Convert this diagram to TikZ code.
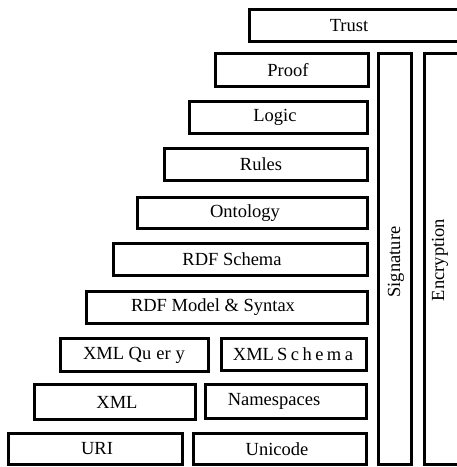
\documentclass[tikz,border=0pt]{standalone}
\usepackage{fontspec}
\setmainfont{Liberation Serif}
\begin{document}
\begin{tikzpicture}[x=1pt,y=-1pt,
  box/.style={draw=black, line width=3.2pt, fill=white, inner sep=0pt},
  lbl/.style={inner sep=0pt, font=\fontsize{18.5}{20}\selectfont}]
\useasboundingbox (0,0) rectangle (457,467);
\begin{scope}
\clip (0,0) rectangle (457,467);
% #1 name, #2-#5 outer edges x1 y1 x2 y2, #6 text centre x, #7 text
\newcommand{\layerbox}[7]{%
  \node[box, minimum width={#4-#2-3.2pt}, minimum height={#5-#3-3.2pt}]
    (#1) at ({(#2+#4)/2},{(#3+#5)/2}) {};
  \node[lbl] (#1-t) at (#6,{(#3+#5)/2}) {#7};}
\layerbox{trust}{248}{8}{470}{43}{349}{Trust}
\layerbox{proof}{214}{52}{370}{88}{288}{Proof}
\layerbox{logic}{188}{100}{369}{135}{275}{Logic}
\layerbox{rules}{163}{147}{369}{182}{261}{Rules}
\layerbox{onto}{136}{196}{369}{230}{245}{Ontology}
\layerbox{rdfs}{112}{242}{369}{277}{232}{RDF Schema}
\layerbox{rdfm}{85}{290}{369}{325}{213}{RDF Model \& Syntax}
\layerbox{xmlq}{59}{337}{210}{373}{134}{XML Qu\kern5pt er\kern5pt y}
\layerbox{xmls}{220}{337}{368}{372}{293}{XML\kern3pt S\kern3.5pt c\kern3.5pt h\kern3.5pt e\kern3.5pt m\kern3.5pt a}
\layerbox{xml}{33}{383}{197}{421}{117}{XML}
\layerbox{ns}{204}{383}{368}{420}{274}{Namespaces}
\layerbox{uri}{7}{432}{184}{466}{97}{URI}
\layerbox{uni}{192}{432}{368}{466}{277}{Unicode}
\node[box, minimum width={413-377-3.2pt}, minimum height={466-52-3.2pt}]
  (sig) at ({(377+413)/2},{(52+466)/2}) {};
\node[lbl, rotate=90] (sig-t) at (396,262) {Signature};
\node[box, minimum width={470-423-3.2pt}, minimum height={466-52-3.2pt}]
  (enc) at ({(423+470)/2},{(52+466)/2}) {};
\node[lbl, rotate=90] (enc-t) at (440,260) {Encryption};
\end{scope}
\end{tikzpicture}
\end{document}
